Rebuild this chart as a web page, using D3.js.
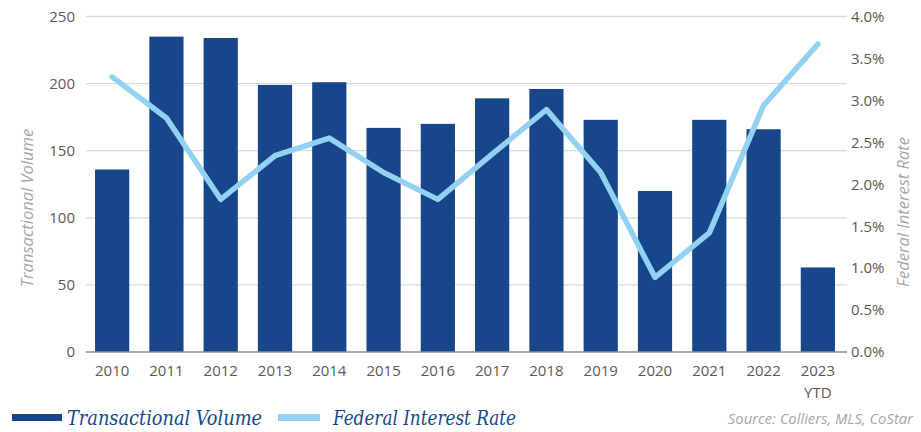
<!DOCTYPE html>
<html><head><meta charset="utf-8">
<script src="https://cdn.jsdelivr.net/npm/d3@7"></script>
<style>body{margin:0;background:#fff}svg{display:block}</style>
</head><body>
<svg id="c" width="921" height="432"></svg>
<script>
const years = ["2010","2011","2012","2013","2014","2015","2016","2017","2018","2019","2020","2021","2022","2023"];
const yearSub = ["","","","","","","","","","","","","","YTD"];
const volume = [136,235,234,199,201,167,170,189,196,173,120,173,166,63];
const rate = [3.28,2.79,1.82,2.34,2.55,2.14,1.82,2.36,2.89,2.14,0.89,1.42,2.94,3.67];
const leftTicks = [0,50,100,150,200,250];
const rightTicks = [0,0.5,1,1.5,2,2.5,3,3.5,4];

const svg = d3.select("#c");
const x = d3.scaleBand().domain(years).range([85,845]).paddingInner(0.37).paddingOuter(0.185);
const y = d3.scaleLinear().domain([0,250]).range([352,16.5]);
const y2 = d3.scaleLinear().domain([0,4]).range([352,16.5]);

// gridlines
svg.append("g").selectAll("line").data(leftTicks.filter(d=>d>0)).join("line")
  .attr("x1",86).attr("x2",847).attr("y1",d=>y(d)).attr("y2",d=>y(d))
  .attr("stroke","#d9d9d9").attr("stroke-width",1.3);

// bars
svg.append("g").selectAll("rect").data(volume).join("rect")
  .attr("x",(d,i)=>x(years[i])).attr("width",x.bandwidth())
  .attr("y",d=>y(d)).attr("height",d=>y(0)-y(d)).attr("fill","#17478a");

// axis line
svg.append("line").attr("x1",86).attr("x2",847).attr("y1",y(0)).attr("y2",y(0))
  .attr("stroke","#8c8c8c").attr("stroke-width",1.3);

// line
const line = d3.line().x((d,i)=>x(years[i])+x.bandwidth()/2).y(d=>y2(d));
svg.append("path").datum(rate).attr("d",line).attr("fill","none")
  .attr("stroke","#92d1f1").attr("stroke-width",5.5).attr("stroke-linecap","round").attr("stroke-linejoin","round");

const tickFont = "'Open Sans', 'Noto Sans', sans-serif";
// left axis
const ga = svg.append("g").attr("transform","translate(86,0)")
  .call(d3.axisLeft(y).tickValues(leftTicks).tickSize(0).tickPadding(11));
ga.select(".domain").remove();
ga.selectAll("text").attr("font-family",tickFont).attr("font-size",15).attr("fill","#595959");
// right axis
const gb = svg.append("g").attr("transform","translate(847,0)")
  .call(d3.axisRight(y2).tickValues(rightTicks).tickSize(0).tickPadding(4).tickFormat(d=>d.toFixed(1)+"%"));
gb.select(".domain").remove();
gb.selectAll("text").attr("font-family",tickFont).attr("font-size",15).attr("fill","#595959");
// x axis labels
const gx = svg.append("g").attr("transform","translate(0,352)")
  .call(d3.axisBottom(x).tickSize(0).tickPadding(13));
gx.select(".domain").remove();
gx.selectAll("text").attr("font-family",tickFont).attr("font-size",15).attr("fill","#595959");
svg.append("g").selectAll("text").data(yearSub).join("text")
  .attr("x",(d,i)=>x(years[i])+x.bandwidth()/2).attr("y",398).attr("text-anchor","middle")
  .attr("font-family",tickFont).attr("font-size",15).attr("fill","#595959").text(d=>d);

// axis titles
svg.append("text").attr("transform","translate(33,208) rotate(-90)").attr("text-anchor","middle")
  .attr("font-family",tickFont).attr("font-style","italic").attr("font-size",16.5).attr("fill","#a6a6a6")
  .text("Transactional Volume");
svg.append("text").attr("transform","translate(909,212) rotate(-90)").attr("text-anchor","middle")
  .attr("font-family",tickFont).attr("font-style","italic").attr("font-size",16.5).attr("fill","#a6a6a6")
  .text("Federal Interest Rate");

// legend
const legFont = "'DejaVu Serif Condensed','Liberation Serif', serif";
svg.append("rect").attr("x",12).attr("y",414).attr("width",50).attr("height",7).attr("fill","#17478a");
svg.append("text").attr("x",67).attr("y",425).attr("font-family",legFont).attr("font-style","italic")
  .attr("font-size",20).attr("fill","#17478a").attr("textLength",195).attr("lengthAdjust","spacingAndGlyphs").text("Transactional Volume");
svg.append("rect").attr("x",278).attr("y",414).attr("width",42).attr("height",7).attr("fill","#92d1f1");
svg.append("text").attr("x",333).attr("y",425).attr("font-family",legFont).attr("font-style","italic")
  .attr("font-size",20).attr("fill","#17478a").attr("textLength",183).attr("lengthAdjust","spacingAndGlyphs").text("Federal Interest Rate");
svg.append("text").attr("x",913).attr("y",424).attr("text-anchor","end").attr("font-family",tickFont)
  .attr("font-style","italic").attr("font-size",14.8).attr("fill","#a6a6a6").text("Source: Colliers, MLS, CoStar");
</script>
</body></html>
